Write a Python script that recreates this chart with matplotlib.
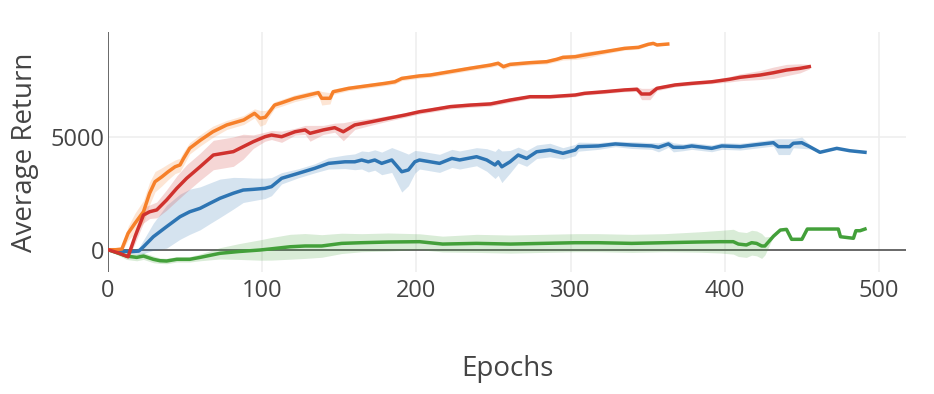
import numpy as np
import matplotlib
matplotlib.use("Agg")
import matplotlib.pyplot as plt

plt.rcParams['font.family'] = ['Open Sans', 'DejaVu Sans']

# ---------------- data ----------------
orange_x = [0, 5, 9, 13, 17.5, 23, 27, 30.5, 35, 39, 43.5, 46.7, 49, 53, 60, 68, 77, 88, 95, 98.6,
            102, 104, 108, 112.6, 121, 130, 136.4, 138.6, 144, 146, 156, 166.7, 179.6, 186, 190.5,
            202, 209, 222, 235, 248, 253, 256.4, 260.7, 273.7, 284.5, 291, 295, 303, 309, 322,
            335, 344, 350.4, 353.6, 356, 363]
orange_y = [0, 0, 30, 725, 1170, 1680, 2500, 3010, 3230, 3450, 3670, 3750, 4040, 4490, 4850, 5220,
            5520, 5740, 6035, 5815, 5860, 6035, 6400, 6500, 6700, 6845, 6950, 6700, 6700, 6990,
            7140, 7240, 7360, 7430, 7580, 7690, 7730, 7880, 8030, 8170, 8250, 8100, 8200, 8275,
            8320, 8425, 8510, 8540, 8615, 8760, 8910, 8955, 9090, 9130, 9060, 9100]
orange_s = [0, 50, 100, 300, 450, 500, 500, 450, 400, 350, 300, 300, 300, 250, 250, 250, 200, 200,
            200, 350, 300, 200, 150, 150, 150, 150, 120, 300, 250, 120, 100, 100, 100, 100, 100,
            100, 100, 100, 100, 100, 100, 120, 100, 100, 100, 100, 120, 120, 150, 100, 80, 80, 60,
            50, 50, 30]

red_x = [0, 7, 13, 17.5, 23, 27, 31.6, 38, 44.6, 51, 59.7, 68.3, 74.8, 81.3, 87.7, 94.2, 101.8,
         106, 112.6, 121.3, 127.8, 131, 139.6, 147, 152.6, 160, 171, 181.8, 192.6, 202, 209, 222,
         235, 248, 261, 273.7, 286.6, 303, 309, 322, 335, 343, 346, 351.5, 356, 367.7, 378.5,
         391.5, 403, 410, 423, 431.5, 440, 448.8, 454.8]
red_y = [0, -150, -310, 575, 1535, 1680, 1760, 2200, 2715, 3160, 3670, 4190, 4265, 4340, 4560,
         4780, 5000, 5075, 5000, 5220, 5300, 5150, 5300, 5400, 5220, 5520, 5665, 5815, 5960, 6105,
         6180, 6330, 6400, 6450, 6625, 6770, 6770, 6845, 6920, 6990, 7070, 7100, 6890, 6890, 7140,
         7290, 7360, 7430, 7540, 7630, 7730, 7830, 7950, 8025, 8100]
red_s = [0, 50, 80, 300, 350, 300, 350, 450, 550, 600, 600, 650, 650, 650, 550, 300, 200, 200,
         250, 150, 200, 350, 200, 200, 400, 200, 150, 120, 100, 100, 100, 100, 100, 100, 100, 80,
         80, 80, 80, 80, 80, 100, 250, 250, 100, 80, 80, 80, 120, 150, 200, 250, 250, 200, 100]

blue_x = [0, 8, 14.3, 20, 23, 29.4, 38, 46.7, 53, 59.7, 66, 72.6, 81.3, 87.7, 94, 101.8, 106,
          112.6, 123.4, 134, 143, 153.7, 160, 164.5, 168.8, 173, 177.5, 184, 190.5, 194.8, 199,
          202, 209, 215, 223, 228, 239, 245.6, 251, 253, 255.4, 260.7, 266, 271.5, 278, 286.6,
          295, 303, 305, 318, 329, 339.6, 352.6, 357, 363.4, 366.6, 373, 378.5, 391.5, 398, 410,
          418.5, 431.5, 434.7, 442, 444.4, 449.9, 455, 461.7, 472.6, 481, 490.9]
blue_y = [0, -60, -90, -60, 130, 575, 1020, 1460, 1680, 1830, 2050, 2275, 2500, 2640, 2670, 2715,
          2790, 3160, 3380, 3600, 3820, 3890, 3890, 3970, 3890, 3970, 3820, 3970, 3450, 3530, 3890,
          3970, 3890, 3820, 4040, 3970, 4115, 3970, 3750, 3890, 3670, 3890, 4190, 4040, 4335, 4410,
          4265, 4410, 4560, 4590, 4680, 4630, 4590, 4530, 4680, 4530, 4530, 4590, 4485, 4590, 4560,
          4630, 4735, 4560, 4560, 4710, 4735, 4560, 4310, 4485, 4380, 4310]
blue_s = [0, 30, 60, 150, 300, 600, 950, 1000, 1000, 950, 900, 850, 700, 550, 500, 450, 400, 250,
          200, 200, 250, 300, 350, 400, 450, 450, 500, 550, 900, 700, 500, 400, 400, 400, 400, 400,
          400, 500, 600, 600, 700, 500, 350, 350, 300, 300, 250, 250, 200, 150, 120, 150, 150, 200,
          150, 200, 150, 150, 150, 150, 150, 150, 150, 350, 350, 200, 250, 100, 0, 0, 0, 0]

green_x = [0, 6, 12, 18.6, 23, 29.4, 33.7, 38, 44.6, 53, 59.7, 72.6, 85, 98.6, 106, 118, 127.8,
           138.6, 151.5, 164.5, 181.8, 202, 217, 239, 261, 282, 303, 318, 339.6, 361, 382.8, 397,
           405.5, 408.8, 414, 417.4, 420.6, 423.9, 426, 431.6, 436, 440, 443.3, 450, 453.5, 461.7,
           473.6, 475, 483.4, 485, 487.7, 490.9]
green_y = [0, -140, -280, -340, -280, -425, -487, -500, -425, -425, -340, -160, -80, -13, 40, 130,
           165, 165, 280, 310, 340, 355, 250, 280, 250, 280, 310, 310, 280, 310, 340, 355, 355, 250,
           210, 310, 280, 165, 165, 600, 870, 900, 460, 460, 915, 915, 915, 575, 505, 840, 840, 915]
green_s = [0, 80, 150, 150, 150, 150, 120, 120, 120, 120, 150, 250, 350, 450, 500, 550, 550, 500,
           450, 400, 400, 350, 350, 400, 400, 400, 400, 400, 400, 400, 450, 500, 550, 550, 550, 550,
           550, 550, 400, 0, 0, 0, 0, 0, 0, 0, 0, 0, 0, 0, 0, 0]

x_ticks = [0, 100, 200, 300, 400, 500]
y_ticks = [0, 5000]
x_label = "Epochs"
y_label = "Average Return"

# ---------------- style ----------------
W, H = 934, 394
fig = plt.figure(figsize=(W / 100, H / 100), dpi=100)
left, right, top, bottom = 108, 906, 32.3, 271.7
ax = fig.add_axes([left / W, 1 - bottom / H, (right - left) / W, (bottom - top) / H])
ax.set_xlim(0, 517.5)
ax.set_ylim(-973, 9620)

text_col = '#444444'
series = [
    (green_x, green_y, green_s, '#43a03a'),
    (blue_x, blue_y, blue_s, '#2e75b3'),
    (orange_x, orange_y, orange_s, '#f6802a'),
    (red_x, red_y, red_s, '#d0322e'),
]

for xs, ys, ss, c in series:
    xs = np.asarray(xs, float); ys = np.asarray(ys, float); ss = np.asarray(ss, float)
    ax.fill_between(xs, ys - ss, ys + ss, color=c, alpha=0.2, lw=0, zorder=2)
for xs, ys, ss, c in series:
    ax.plot(xs, ys, color=c, lw=2.5, zorder=4, solid_joinstyle='round')

for s in ax.spines.values():
    s.set_visible(False)
ax.axhline(0, color=text_col, lw=1.1, zorder=1.5)
ax.axvline(0, color=text_col, lw=1.1, zorder=1.5)

ax.set_xticks(x_ticks)
ax.set_yticks(y_ticks)
ax.grid(True, color='#eeeeee', lw=1.1, zorder=0)
ax.set_axisbelow(True)
ax.tick_params(axis='both', length=0, labelsize=17, labelcolor=text_col)
ax.tick_params(axis='x', pad=5.5)
ax.tick_params(axis='y', pad=2.5)

fig.text(507 / W, 1 - 376 / H, x_label, ha='center', va='baseline', fontsize=20, color=text_col)
fig.text(25 / W, 1 - 152 / H, y_label, ha='center', va='center', rotation=90, fontsize=20,
         color=text_col)

fig.savefig('out.png', dpi=100)
